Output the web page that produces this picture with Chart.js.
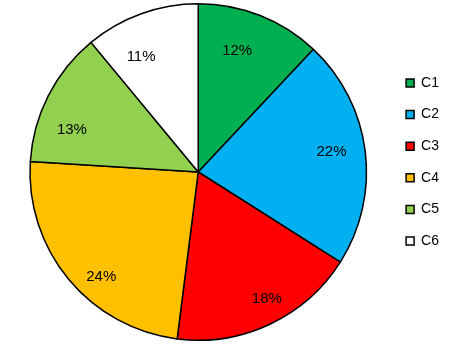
<!DOCTYPE html>
<html>
<head>
<meta charset="utf-8">
<script src="https://cdn.jsdelivr.net/npm/chart.js@4/dist/chart.umd.min.js"></script>
<style>
html,body{margin:0;padding:0;background:#fff;}
#wrap{width:450px;height:347px;}
</style>
</head>
<body>
<div id="wrap"><canvas id="c" width="450" height="347"></canvas></div>
<script>
const categories = ['C1','C2','C3','C4','C5','C6'];
const values = [12, 22, 18, 24, 13, 11];
const colors = ['#00B050','#00B0F0','#FF0000','#FFC000','#92D050','#FFFFFF'];

const FONT = '"Liberation Sans", Arial, sans-serif';

const pctLabels = {
  id: 'pctLabels',
  afterDatasetsDraw(chart) {
    const ctx = chart.ctx;
    const meta = chart.getDatasetMeta(0);
    const total = values.reduce((a, b) => a + b, 0);
    const shift = -5 * Math.PI / 180;
    ctx.save();
    ctx.font = '15px ' + FONT;
    ctx.fillStyle = '#000';
    ctx.textAlign = 'center';
    ctx.textBaseline = 'middle';
    meta.data.forEach((arc, i) => {
      const p = arc.getProps(['x','y','startAngle','endAngle','outerRadius'], true);
      const mid = (p.startAngle + p.endAngle) / 2 + shift;
      const r = p.outerRadius * 0.81;
      ctx.fillText(Math.round(values[i] / total * 100) + '%', p.x + Math.cos(mid) * r, p.y + Math.sin(mid) * r + 9);
    });
    ctx.restore();
  }
};

new Chart(document.getElementById('c'), {
  type: 'pie',
  data: {
    labels: categories,
    datasets: [{
      data: values,
      backgroundColor: colors,
      borderColor: '#000',
      borderWidth: 1.5
    }]
  },
  options: {
    responsive: false,
    animation: false,
    layout: { padding: { left: 8, top: 3, bottom: 6, right: 1 } },
    plugins: {
      tooltip: { enabled: false },
      legend: {
        position: 'right',
        align: 'start',
        title: {
          display: true,
          text: ' ',
          font: { size: 12, lineHeight: 1.2 },
          padding: { top: 41, bottom: 0 }
        },
        labels: {
          boxWidth: 8,
          boxHeight: 8,
          padding: 17.6,
          color: '#000',
          font: { family: FONT, size: 14 }
        }
      }
    }
  },
  plugins: [pctLabels]
});
</script>
</body>
</html>
